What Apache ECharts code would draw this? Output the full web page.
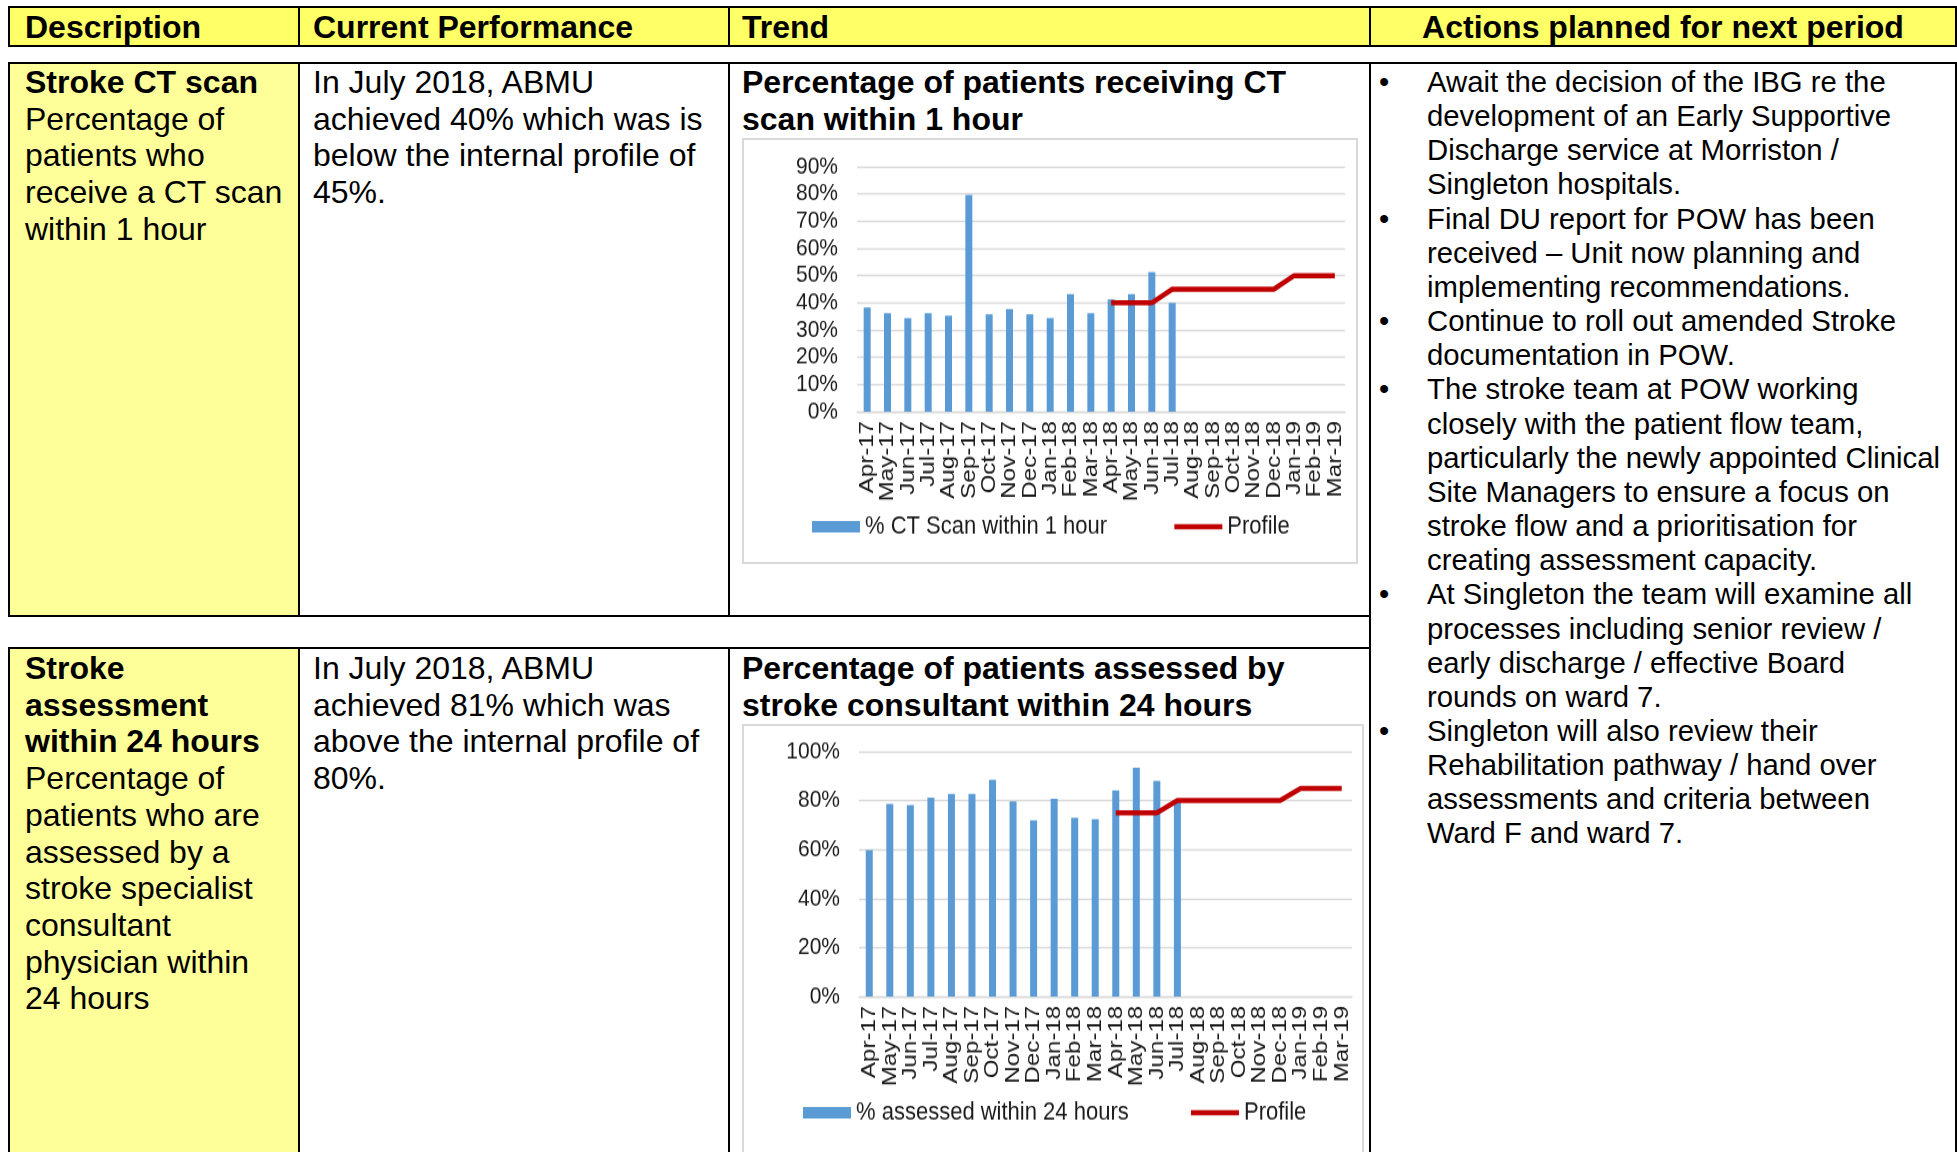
<!DOCTYPE html>
<html>
<head>
<meta charset="utf-8">
<title>Stroke performance</title>
<script src="https://cdn.jsdelivr.net/npm/echarts@6/dist/echarts.min.js"></script>
<style>
html, body { margin:0; padding:0; background:#fff; }
body { width:1957px; height:1152px; position:relative; overflow:hidden;
       font-family:"Liberation Sans", Arial, sans-serif; color:#000; }
.ln { position:absolute; background:#000; }
.fill { position:absolute; }
.hd { position:absolute; top:8px; height:38px; line-height:39px; font-size:32px;
      font-weight:bold; white-space:nowrap; }
.cell { position:absolute; font-size:32px; line-height:36.7px; white-space:nowrap; }
.act { position:absolute; left:1379px; top:65px; font-size:29.3px; line-height:34.15px; white-space:nowrap; }
.act div { position:relative; padding-left:48px; }
.act div:before { content:"\2022"; position:absolute; left:0; top:0; }
.frame { position:absolute; border:2px solid #d9d9d9; box-sizing:border-box; }
/* the charts in the source are stretched a little vertically */
.chart { position:absolute; transform:scaleY(1.15); transform-origin:0 0; }
</style>
</head>
<body>

<div class="fill" style="left:8px;top:6px;width:1949px;height:41px;background:#ffff66"></div>
<div class="fill" style="left:10px;top:64px;width:288px;height:551px;background:#ffff99"></div>
<div class="fill" style="left:10px;top:649px;width:288px;height:503px;background:#ffff99"></div>

<div class="hd" style="left:25px">Description</div>
<div class="hd" style="left:313px">Current Performance</div>
<div class="hd" style="left:742px">Trend</div>
<div class="hd" style="left:1371px;width:584px;text-align:center">Actions planned for next period</div>

<div class="cell" style="left:25px;top:64px"><b>Stroke CT scan</b><br>Percentage of<br>patients who<br>receive a CT scan<br>within 1 hour</div>
<div class="cell" style="left:313px;top:64px">In July 2018, ABMU<br>achieved 40% which was is<br>below the internal profile of<br>45%.</div>
<div class="cell" style="left:742px;top:64px;font-weight:bold">Percentage of patients receiving CT<br>scan within 1 hour</div>

<div class="cell" style="left:25px;top:650px"><b>Stroke<br>assessment<br>within 24 hours</b><br>Percentage of<br>patients who are<br>assessed by a<br>stroke specialist<br>consultant<br>physician within<br>24 hours</div>
<div class="cell" style="left:313px;top:650px">In July 2018, ABMU<br>achieved 81% which was<br>above the internal profile of<br>80%.</div>
<div class="cell" style="left:742px;top:650px;font-weight:bold">Percentage of patients assessed by<br>stroke consultant within 24 hours</div>

<div class="act">
<div>Await the decision of the IBG re the<br>development of an Early Supportive<br>Discharge service at Morriston /<br>Singleton hospitals.</div>
<div>Final DU report for POW has been<br>received – Unit now planning and<br>implementing recommendations.</div>
<div>Continue to roll out amended Stroke<br>documentation in POW.</div>
<div>The stroke team at POW working<br>closely with the patient flow team,<br>particularly the newly appointed Clinical<br>Site Managers to ensure a focus on<br>stroke flow and a prioritisation for<br>creating assessment capacity.</div>
<div>At Singleton the team will examine all<br>processes including senior review /<br>early discharge / effective Board<br>rounds on ward 7.</div>
<div>Singleton will also review their<br>Rehabilitation pathway / hand over<br>assessments and criteria between<br>Ward F and ward 7.</div>
</div>

<div class="frame" style="left:742px;top:138px;width:616px;height:426px"></div>
<div class="chart" id="chart1" style="left:742px;top:138px;width:616px;height:370px"></div>
<div class="frame" style="left:742px;top:724px;width:622px;height:440px"></div>
<div class="chart" id="chart2" style="left:742px;top:724px;width:622px;height:372px"></div>

<script>
// months on both trend charts
var months = ['Apr-17','May-17','Jun-17','Jul-17','Aug-17','Sep-17','Oct-17','Nov-17','Dec-17',
              'Jan-18','Feb-18','Mar-18','Apr-18','May-18','Jun-18','Jul-18','Aug-18','Sep-18',
              'Oct-18','Nov-18','Dec-18','Jan-19','Feb-19','Mar-19'];

// % CT scan within 1 hour (actuals up to Jul-18)
var ctScan = [38.3, 36.2, 34.4, 36.2, 35.3, 79.7, 35.8, 37.7, 35.8, 34.4, 43.2, 36.2,
              41.3, 43.2, 51.3, 40, null, null, null, null, null, null, null, null];
var ctProfile = [null, null, null, null, null, null, null, null, null, null, null, null,
                 40, 40, 40, 45, 45, 45, 45, 45, 45, 50, 50, 50];

// % assessed by stroke consultant within 24 hours
var assessed = [59.8, 78.6, 78.2, 81.2, 82.8, 82.8, 88.5, 79.7, 71.9, 80.7, 73, 72.4,
                84.1, 93.4, 88, 80, null, null, null, null, null, null, null, null];
var assessProfile = [null, null, null, null, null, null, null, null, null, null, null, null,
                     75, 75, 75, 80, 80, 80, 80, 80, 80, 85, 85, 85];

// table rules: [left, top, width, height]
var rules = [
    [8, 6, 1949, 2], [8, 45, 1949, 2], [8, 6, 2, 41], [1955, 6, 2, 41],
    [298, 6, 2, 41], [728, 6, 2, 41], [1369, 6, 2, 41],
    [8, 62, 1949, 2], [8, 615, 1363, 2], [8, 647, 1363, 2],
    [8, 62, 2, 555], [298, 62, 2, 555], [728, 62, 2, 555],
    [8, 647, 2, 505], [298, 647, 2, 505], [728, 647, 2, 505],
    [1369, 62, 2, 1090], [1955, 62, 2, 1090]
];
rules.forEach(function(r){
    var d = document.createElement('div');
    d.className = 'ln';
    d.style.left = r[0] + 'px'; d.style.top = r[1] + 'px';
    d.style.width = r[2] + 'px'; d.style.height = r[3] + 'px';
    document.body.appendChild(d);
});

var txt = '#1a1a1a', gridCol = '#d9d9d9', red = '#c00000';
var clear = 'rgba(0,0,0,0)';

function trendOption(barName, bars, profile, yMax, yStep, grid, legendLeft, legendTop, legendGap) {
    return {
        animation: false,
        textStyle: { fontFamily: 'Liberation Sans' },
        grid: grid,
        legend: {
            left: legendLeft, top: legendTop, itemWidth: 48, itemHeight: 10, itemGap: legendGap,
            textStyle: { fontSize: 22, color: txt },
            data: [
                { name: barName, icon: 'rect' },
                { name: 'Profile', itemStyle: { color: clear, borderColor: clear, borderWidth: 0 },
                  lineStyle: { color: red, width: 4.5 } }
            ]
        },
        xAxis: {
            type: 'category', data: months,
            axisLine: { lineStyle: { color: gridCol, width: 1.3 } },
            axisTick: { length: 6, lineStyle: { color: gridCol, width: 1.3 } },
            axisLabel: { rotate: 90, interval: 0, fontSize: 21, color: txt, margin: 8 }
        },
        yAxis: {
            type: 'value', min: 0, max: yMax, interval: yStep,
            axisLine: { show: false }, axisTick: { show: false },
            axisLabel: { formatter: '{value}%', fontSize: 21, color: txt, margin: 19 },
            splitLine: { lineStyle: { color: gridCol, width: 1.3 } }
        },
        series: [
            { name: barName, type: 'bar', data: bars, barWidth: 7, itemStyle: { color: '#5b9bd5' } },
            { name: 'Profile', type: 'line', data: profile, symbol: 'none',
              lineStyle: { color: red, width: 4.5 }, itemStyle: { color: red } }
        ]
    };
}

var chart1 = echarts.init(document.getElementById('chart1'));
chart1.setOption(trendOption('% CT Scan within 1 hour', ctScan, ctProfile, 90, 10,
    { left: 115, top: 25, width: 488, height: 213 }, 65, 322, 65));

var chart2 = echarts.init(document.getElementById('chart2'));
chart2.setOption(trendOption('% assessed within 24 hours', assessed, assessProfile, 100, 20,
    { left: 117, top: 24, width: 493, height: 213 }, 56, 322, 60));
</script>
</body>
</html>
